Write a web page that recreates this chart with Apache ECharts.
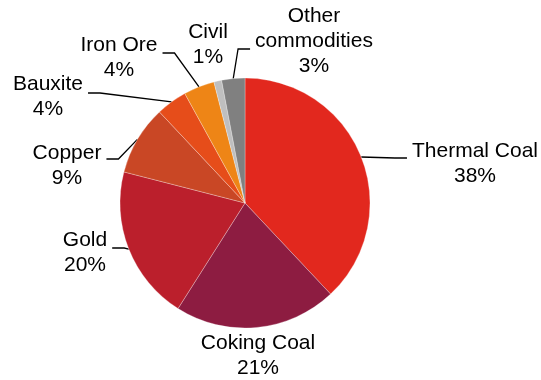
<!DOCTYPE html>
<html>
<head>
<meta charset="utf-8">
<script src="https://cdn.jsdelivr.net/npm/echarts@6/dist/echarts.min.js"></script>
<style>
  html, body { margin: 0; padding: 0; background: #fff; }
  #chart { width: 541px; height: 380px; }
</style>
</head>
<body>
<div id="chart"></div>
<script>
// Revenue share by commodity (%)
const categories = ['Thermal Coal', 'Coking Coal', 'Gold', 'Copper', 'Bauxite', 'Iron Ore', 'Civil', 'Other commodities'];
const shares = [38, 21, 20, 9, 4, 4, 1, 3];

// Slice fills, in category order
const sliceColors = ['#E2281E', '#8D1C41', '#BB1F2C', '#C94725', '#E64D1A', '#EE8516', '#BFBFBF', '#808080'];

// Where each label block sits (centre), which side the leader meets it,
// and the vertical offset of the leader's horizontal tail from the block centre
const labelSpots = [
  { x: 475, y: 164, side: 'left',  lineDy: -6 },
  { x: 258, y: 356, side: null },
  { x: 85,  y: 253, side: 'right', lineDy: -5 },
  { x: 67,  y: 166, side: 'right', lineDy: -7 },
  { x: 48,  y: 97,  side: 'right', lineDy: -4 },
  { x: 119, y: 58,  side: 'right', lineDy: -5 },
  { x: 208, y: 45,  side: null },
  { x: 314, y: 41,  side: 'left',  lineDy: 8 }
];

const wrapNames = { 'Other commodities': 'Other\ncommodities' };

const seriesData = categories.map((name, i) => ({
  name: name,
  value: shares[i],
  itemStyle: { color: sliceColors[i] },
  labelLine: { show: labelSpots[i].side !== null }
}));

const chart = echarts.init(document.getElementById('chart'), null, { renderer: 'canvas' });

chart.setOption({
  animation: false,
  backgroundColor: '#ffffff',
  series: [{
    type: 'pie',
    center: [245, 203],
    radius: 125,
    startAngle: 90,
    clockwise: true,
    avoidLabelOverlap: false,
    data: seriesData,
    itemStyle: { borderColor: 'rgba(255,255,255,0.7)', borderWidth: 0.4 },
    emphasis: { disabled: true },
    label: {
      show: true,
      position: 'outside',
      color: '#000000',
      fontFamily: '"Liberation Sans", Arial, sans-serif',
      fontSize: 21,
      lineHeight: 25,
      formatter: p => (wrapNames[p.name] || p.name) + '\n' + p.value + '%'
    },
    labelLine: {
      show: true,
      length: 10,
      length2: 10,
      lineStyle: { color: '#000000', width: 1.3 }
    },
    labelLayout: function (params) {
      const spot = labelSpots[params.dataIndex];
      const out = { x: spot.x, y: spot.y, align: 'center', verticalAlign: 'middle' };
      if (spot.side && params.labelLinePoints) {
        const start = params.labelLinePoints[0];
        const halfW = params.labelRect.width / 2;
        const ly = spot.y + spot.lineDy;
        let endX, midX;
        if (spot.side === 'left') {
          endX = spot.x - halfW - 5;
          midX = endX - 12;
        } else {
          endX = spot.x + halfW + 5;
          midX = endX + 12;
        }
        out.labelLinePoints = [[start[0], start[1]], [midX, ly], [endX, ly]];
      }
      return out;
    }
  }]
});
</script>
</body>
</html>
